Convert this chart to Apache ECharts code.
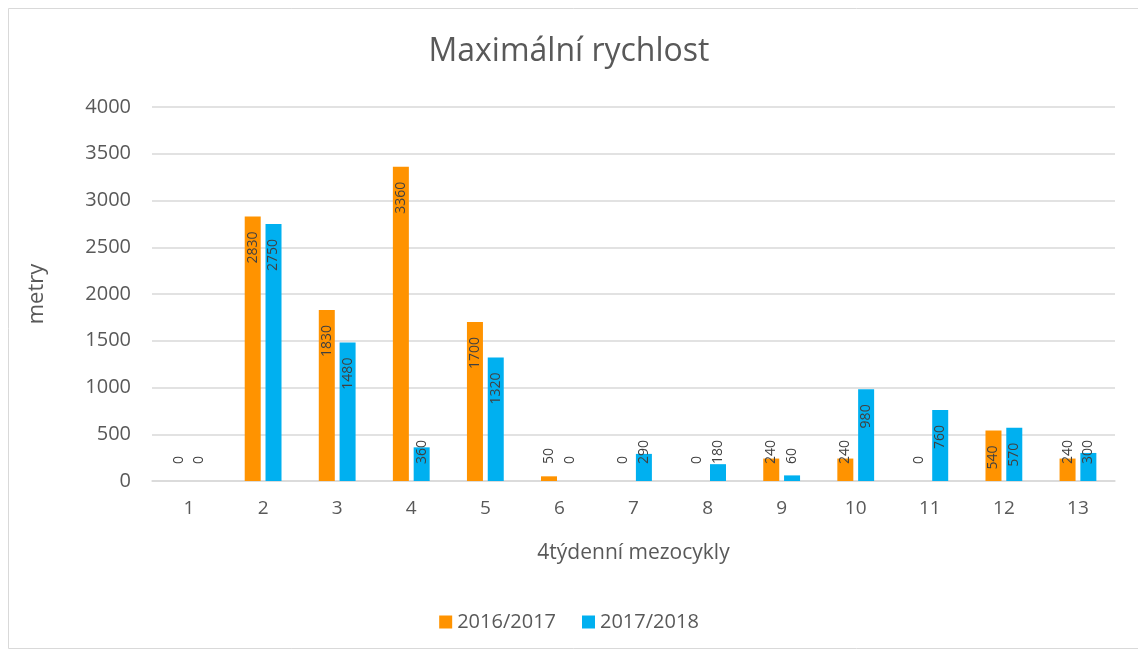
<!DOCTYPE html>
<html>
<head>
<meta charset="utf-8">
<script src="https://cdn.jsdelivr.net/npm/echarts@6/dist/echarts.min.js"></script>
<style>
  html, body { margin: 0; padding: 0; background: #fff; }
  #chart { width: 1138px; height: 655px; }
</style>
</head>
<body>
<div id="chart"></div>
<script>
const categories = ['1', '2', '3', '4', '5', '6', '7', '8', '9', '10', '11', '12', '13'];
const season1617 = [0, 2830, 1830, 3360, 1700, 50, 0, 0, 240, 240, 0, 540, 240];
const season1718 = [0, 2750, 1480, 360, 1320, 0, 290, 180, 60, 980, 760, 570, 300];
const yTicks = [0, 500, 1000, 1500, 2000, 2500, 3000, 3500, 4000];

const fontFamily = '"Open Sans", "Noto Sans", sans-serif';

// Excel puts the label inside the top of tall bars, small ones get it near the base
const makeData = (values) => values.map(v => ({
    value: v,
    label: v >= 500
        ? { position: 'insideTop', distance: 15, align: 'right' }
        : { position: 'insideBottom', distance: 17, align: 'left' }
}));

const labelBase = {
    show: true,
    rotate: 90,
    verticalAlign: 'middle',
    color: '#404040',
    fontSize: 14,
    fontFamily: fontFamily
};

const myChart = echarts.init(document.getElementById('chart'));

const option = {
    backgroundColor: '#fff',
    animation: false,
    title: {
        text: 'Maximální rychlost',
        left: 'center',
        top: 31,
        textStyle: {
            color: '#595959',
            fontSize: 32,
            fontWeight: 'normal',
            fontFamily: fontFamily
        }
    },
    graphic: [{
        type: 'rect',
        shape: { x: 8.5, y: 8.5, width: 1140, height: 640 },
        style: { fill: 'none', stroke: '#D9D9D9', lineWidth: 1 },
        silent: true
    }],
    legend: {
        bottom: 18,
        left: 'center',
        itemWidth: 13,
        itemHeight: 13,
        itemGap: 26,
        icon: 'rect',
        textStyle: {
            color: '#595959',
            fontSize: 20,
            fontFamily: fontFamily
        },
        data: ['2016/2017', '2017/2018']
    },
    grid: {
        left: 152,
        right: 23,
        top: 107,
        bottom: 174
    },
    xAxis: {
        type: 'category',
        data: categories,
        name: '4týdenní mezocykly',
        nameLocation: 'middle',
        nameGap: 62,
        nameTextStyle: {
            color: '#595959',
            fontSize: 21,
            fontFamily: fontFamily
        },
        axisLine: { lineStyle: { color: '#D9D9D9', width: 1.5 } },
        axisTick: { show: false },
        axisLabel: {
            color: '#595959',
            fontSize: 19,
            margin: 18,
            fontFamily: fontFamily
        }
    },
    yAxis: {
        type: 'value',
        min: yTicks[0],
        max: yTicks[yTicks.length - 1],
        interval: yTicks[1] - yTicks[0],
        name: 'metry',
        nameLocation: 'middle',
        nameGap: 104,
        nameTextStyle: {
            color: '#595959',
            fontSize: 22,
            fontFamily: fontFamily
        },
        axisLine: { show: false },
        axisTick: { show: false },
        splitLine: { lineStyle: { color: '#D9D9D9', width: 1.5 } },
        axisLabel: {
            color: '#595959',
            fontSize: 20,
            margin: 21,
            fontFamily: fontFamily,
            formatter: (v) => String(v)
        }
    },
    series: [
        {
            name: '2016/2017',
            type: 'bar',
            data: makeData(season1617),
            barWidth: 16,
            barGap: '30%',
            itemStyle: { color: '#FF9300' },
            label: labelBase
        },
        {
            name: '2017/2018',
            type: 'bar',
            data: makeData(season1718),
            barWidth: 16,
            barGap: '30%',
            itemStyle: { color: '#00B0F0' },
            label: labelBase
        }
    ]
};

myChart.setOption(option);
</script>
</body>
</html>
